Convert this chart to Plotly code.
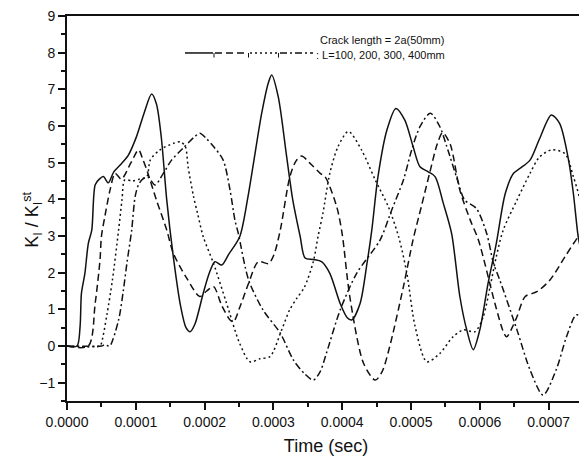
import plotly.graph_objects as go

# time in units of 1e-4 s
t_L100 = [0, 0.145, 0.19, 0.21, 0.26, 0.31, 0.36, 0.41, 0.47, 0.53, 0.60, 0.68, 0.78, 0.89, 1.01, 1.12, 1.23, 1.30,
          1.37, 1.45, 1.545, 1.65, 1.73, 1.79, 1.86, 1.98, 2.07, 2.15, 2.25, 2.35, 2.51, 2.63, 2.71, 2.83, 2.93,
          2.975, 3.07, 3.19, 3.28, 3.39, 3.46, 3.58, 3.70, 3.82, 3.97, 4.07, 4.14, 4.26, 4.36, 4.43, 4.52, 4.65,
          4.78, 4.91, 5.03, 5.13, 5.25, 5.35, 5.47, 5.59, 5.71, 5.81, 5.905, 6.0, 6.12, 6.24, 6.37, 6.49, 6.58,
          6.73, 6.87, 7.04, 7.16, 7.29, 7.36, 7.43, 7.48, 7.53]
k_L100 = [0, 0, 0.53, 1.44, 1.98, 2.8, 3.16, 4.4, 4.55, 4.62, 4.45, 4.75, 4.95, 5.2, 5.71, 6.35, 6.87, 6.6,
          5.7, 3.98, 2.44, 1.1, 0.5, 0.39, 0.6, 1.44, 2.0, 2.3, 2.21, 2.5, 2.98, 4.07, 4.98, 6.35, 7.2,
          7.39, 6.8, 5.2, 4.0, 2.98, 2.4, 2.36, 2.3, 1.98, 1.16, 0.78, 0.71, 1.16, 2.25, 3.16, 4.62, 5.89,
          6.48, 6.16, 5.44, 4.89, 4.75, 4.62, 3.89, 3.07, 1.35, 0.44, -0.1, 0.44, 1.71, 2.8, 4.16, 4.71, 4.84,
          5.07, 5.66, 6.3, 6.07, 5.07, 4.16, 2.98, 2.5, 1.8]

t_L200 = [0, 0.31, 0.41, 0.48, 0.50, 0.55, 0.625, 0.70, 0.79, 0.93, 1.04, 1.10, 1.16, 1.30, 1.45, 1.545, 1.74,
          1.93, 2.03, 2.13, 2.25, 2.37, 2.42, 2.52, 2.64, 2.78, 2.93, 3.01, 3.10, 3.24, 3.33, 3.41, 3.55, 3.68,
          3.75, 3.92, 4.00, 4.11, 4.31, 4.48, 4.58, 4.69, 4.89, 5.03, 5.15, 5.27, 5.38, 5.46, 5.57, 5.71, 5.86,
          5.98, 6.22, 6.34, 6.39, 6.47, 6.54, 6.66, 6.83, 7.02, 7.24, 7.43, 7.53]
k_L200 = [0, 0, 1.17, 2.35, 2.98, 3.53, 4.25, 4.71, 4.55, 5.0, 5.35, 5.1, 4.8, 3.98, 3.16, 2.53, 1.85,
          1.35, 1.5, 1.62, 1.1, 0.71, 0.66, 1.1, 1.71, 2.3, 2.25, 2.5, 3.16, 4.62, 5.05, 5.18, 4.95, 4.71,
          4.62, 3.8, 3.05, 1.35, -0.47, -0.93, -0.7, -0.02, 1.62, 2.9, 3.8, 4.71, 5.5, 5.82, 5.5, 4.25, 3.44,
          2.89, 1.16, 0.4, 0.25, 0.5, 0.8, 1.35, 1.48, 1.8, 2.44, 2.98, 3.2]

t_L300 = [0, 0.48, 0.50, 0.58, 0.66, 0.75, 0.80, 0.84, 0.95, 1.05, 1.16, 1.21, 1.35, 1.55, 1.65, 1.72, 1.76,
          1.84, 1.90, 1.98, 2.13, 2.32, 2.51, 2.66, 2.80, 2.95, 3.12, 3.24, 3.34, 3.45, 3.58, 3.65, 3.72, 3.82,
          3.94, 4.09, 4.28, 4.48, 4.67, 4.82, 4.94, 5.06, 5.23, 5.42, 5.61, 5.76, 5.93, 6.05, 6.15, 6.24, 6.34,
          6.54, 6.73, 6.87, 7.05, 7.24, 7.36, 7.46, 7.53]
k_L300 = [0, 0, 0.07, 0.85, 1.8, 3.16, 4.0, 4.53, 4.5, 4.55, 4.62, 5.07, 5.35, 5.53, 5.57, 5.44, 4.89,
          4.07, 3.6, 2.98, 2.25, 1.16, 0.07, -0.43, -0.35, -0.29, 0.44, 1.0, 1.3, 1.6, 2.3, 3.0, 3.62, 4.71,
          5.44, 5.85, 5.35, 4.53, 3.8, 2.98, 1.98, 0.53, -0.43, -0.2, 0.25, 0.44, 0.39, 0.8, 1.62, 2.44, 3.16,
          3.98, 4.71, 5.16, 5.35, 5.24, 4.62, 3.98, 3.4]

t_L400 = [0, 0.50, 0.55, 0.60, 0.625, 0.75, 0.82, 0.87, 0.94, 0.99, 1.04, 1.10, 1.18, 1.28, 1.40, 1.52, 1.69,
          1.85, 1.93, 2.03, 2.13, 2.27, 2.37, 2.44, 2.49, 2.64, 2.85, 3.10, 3.29, 3.45, 3.58, 3.68, 3.77, 3.97,
          4.21, 4.55, 4.72, 4.89, 5.01, 5.13, 5.28, 5.42, 5.52, 5.68, 5.78, 5.95, 6.10, 6.20, 6.29, 6.54, 6.73,
          6.92, 7.11, 7.26, 7.40, 7.48, 7.53]
k_L400 = [0, 0, 0.03, 0.0, 0, 0.71, 1.53, 2.25, 3.16, 4.07, 4.4, 4.55, 4.6, 4.39, 4.71, 5.07, 5.4,
          5.7, 5.8, 5.65, 5.44, 5.07, 4.25, 3.44, 3.07, 1.8, 0.98, 0.35, -0.38, -0.75, -0.93, -0.7, -0.2, 0.98,
          1.98, 2.89, 3.71, 4.53, 5.35, 5.98, 6.35, 5.98, 5.44, 4.5, 3.98, 3.75, 3.07, 2.25, 1.8, 0.44, -0.65,
          -1.34, -0.65, 0.25, 0.85, 0.8, 0.7]

x_ticks = [0, 0.0001, 0.0002, 0.0003, 0.0004, 0.0005, 0.0006, 0.0007]
x_tick_text = ["0.0000", "0.0001", "0.0002", "0.0003", "0.0004", "0.0005", "0.0006", "0.0007"]
y_ticks = [-1, 0, 1, 2, 3, 4, 5, 6, 7, 8, 9]

SCALE = 1e-4
series = [
    ("L=100", t_L100, k_L100, "solid"),
    ("L=200", t_L200, k_L200, "7px,4px"),
    ("L=300", t_L300, k_L300, "2px,3px"),
    ("L=400", t_L400, k_L400, "7px,3px,2px,3px"),
]

fig = go.Figure()
for name, t, k, dash in series:
    fig.add_trace(go.Scatter(
        x=[v * SCALE for v in t], y=k, mode="lines", name=name,
        line=dict(color="#111111", width=1.5, dash=dash, shape="spline", smoothing=0.8),
        showlegend=False, cliponaxis=True))

FONT = "Liberation Sans, Arial, Helvetica, sans-serif"
# page body has an 8px default margin: figure is 8px smaller and offset accordingly
fig.update_layout(
    width=579, height=453,
    margin=dict(l=59, r=2, t=8, b=60, autoexpand=False),
    paper_bgcolor="white", plot_bgcolor="white",
    font=dict(family=FONT, color="#111111", size=14),
)
fig.update_xaxes(
    range=[0, 0.0007529], tickvals=x_ticks, ticktext=x_tick_text, automargin=False,
    ticklabeloverflow="allow",
    showgrid=False, zeroline=False, showline=True, linecolor="#111111", linewidth=2, mirror=True,
    ticks="outside", ticklen=7, tickwidth=1.5, tickcolor="#111111",
    minor=dict(dtick=0.00005, ticks="outside", ticklen=4, tickwidth=1.5, tickcolor="#111111", showgrid=False),
    tickfont=dict(size=14),
    title=dict(text="Time (sec)", font=dict(size=18), standoff=11),
)
fig.update_yaxes(
    range=[-1.5, 9], tickvals=y_ticks, automargin=False,
    ticklabeloverflow="allow",
    showgrid=False, zeroline=False, showline=True, linecolor="#111111", linewidth=2, mirror=True,
    ticks="outside", ticklen=7, tickwidth=1.5, tickcolor="#111111",
    minor=dict(dtick=0.5, tick0=0, ticks="outside", ticklen=4, tickwidth=1.5, tickcolor="#111111", showgrid=False),
    tickfont=dict(size=14),
)

# y axis title as rotated annotation
fig.add_annotation(xref="paper", yref="paper", x=-0.068, y=0.47, xanchor="center", yanchor="middle",
                   textangle=-90, showarrow=False,
                   text="K<sub>I</sub> / K<sub>I</sub><sup>st</sup>", font=dict(size=18))

# legend samples (paper coordinates)
ly = 0.904
segs = [(0.2278, 0.2819, "solid"), (0.2857, 0.3475, "7px,4px"), (0.3533, 0.4054, "2px,3px"),
        (0.4112, 0.4749, "7px,3px,2px,3px")]
for x0, x1, d in segs:
    fig.add_shape(type="line", xref="paper", yref="paper", x0=x0, x1=x1, y0=ly, y1=ly,
                  line=dict(color="#111111", width=1.5, dash=d))
for xm in [0.2838, 0.3504, 0.4083]:
    fig.add_shape(type="line", xref="paper", yref="paper", x0=xm, x1=xm, y0=ly - 0.012, y1=ly,
                  line=dict(color="#111111", width=1))

fig.add_annotation(xref="paper", yref="paper", x=0.4846, y=0.9377, xanchor="left", yanchor="middle",
                   text="Crack length = 2a(50mm)", showarrow=False, font=dict(size=11))
fig.add_annotation(xref="paper", yref="paper", x=0.4768, y=0.8987, xanchor="left", yanchor="middle",
                   text=": L=100, 200, 300, 400mm", showarrow=False, font=dict(size=11))

fig.write_html("out.html")
